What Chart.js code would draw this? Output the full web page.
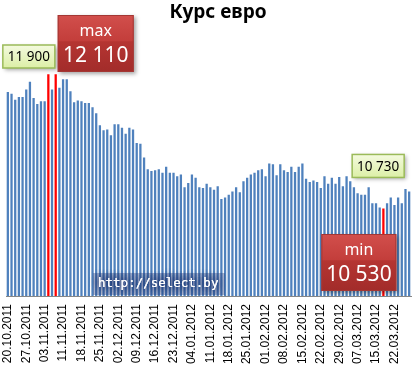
<!DOCTYPE html>
<html>
<head>
<meta charset="utf-8">
<script src="https://cdn.jsdelivr.net/npm/chart.js@4"></script>
<style>
  html, body { margin: 0; padding: 0; background: #fff; }
  #wrap { width: 413px; height: 373px; }
</style>
</head>
<body>
<div id="wrap"><canvas id="rateChart" width="413" height="373"></canvas></div>
<script>
// weekly tick labels (one every 5 trading days)
const tickLabels = ['20.10.2011','27.10.2011','03.11.2011','11.11.2011','18.11.2011','25.11.2011',
  '02.12.2011','09.12.2011','16.12.2011','23.12.2011','04.01.2012','11.01.2012','18.01.2012',
  '25.01.2012','01.02.2012','08.02.2012','15.02.2012','22.02.2012','29.02.2012','07.03.2012',
  '15.03.2012','22.03.2012'];
const labelStep = 5;

// daily euro rate, BYR
const rates = [
  11900, 11880, 11810, 11840, 11840, 11930, 12020, 11830, 11760, 11790,
  11790, 12110, 11930, 12110, 11950, 12050, 12050, 11910, 11780, 11800,
  11790, 11770, 11770, 11720, 11650, 11510, 11450, 11460, 11390, 11520,
  11520, 11480, 11410, 11480, 11460, 11300, 11290, 11130, 10990, 10970,
  10980, 10990, 10950, 11020, 10950, 10950, 10910, 10930, 10780, 10830,
  10930, 10890, 10780, 10770, 10820, 10780, 10750, 10790, 10640, 10660,
  10690, 10730, 10780, 10720, 10850, 10890, 10930, 10950, 10980, 10990,
  10910, 11060, 11050, 10920, 11050, 10980, 10960, 11020, 10960, 11020,
  11060, 10880, 10840, 10860, 10840, 10770, 10910, 10820, 10890, 10820,
  10900, 10790, 10910, 10850, 10780, 10710, 10690, 10690, 10780, 10590,
  10590, 10540, 10530, 10590, 10660, 10570, 10660, 10590, 10760, 10730
];

// first and last values get a green callout
const calloutPoints = [0, rates.length - 1];

const categories = rates.map((v, i) => i % labelStep === 0 ? tickLabels[i / labelStep] : '');
const maxRate = Math.max(...rates);
const minRate = Math.min(...rates);
const minIdx = rates.indexOf(minRate);
const lastMaxIdx = rates.lastIndexOf(maxRate);
const barColors = rates.map(v => (v === maxRate || v === minRate) ? '#FF0000' : '#4F81BD');

const fmt = n => String(n).replace(/\B(?=(\d{3})+(?!\d))/g, ' ');

function shadowOn(ctx){
    ctx.shadowColor = 'rgba(0,0,0,0.35)';
    ctx.shadowBlur = 4;
    ctx.shadowOffsetX = 2;
    ctx.shadowOffsetY = 2;
}

function greenBox(ctx, x, y, w, h, text){
    ctx.save();
    shadowOn(ctx);
    const g = ctx.createLinearGradient(0, y, 0, y + h);
    g.addColorStop(0, '#F4FADF');
    g.addColorStop(1, '#DCEFA6');
    ctx.fillStyle = g;
    ctx.fillRect(x, y, w, h);
    ctx.restore();
    ctx.save();
    ctx.strokeStyle = '#9BBB59';
    ctx.lineWidth = 1.5;
    ctx.strokeRect(x, y, w, h);
    ctx.fillStyle = '#000';
    ctx.font = '13.5px "Noto Sans"';
    ctx.textAlign = 'center';
    ctx.textBaseline = 'middle';
    ctx.fillText(text, x + w / 2, y + h / 2 + 1);
    ctx.restore();
}

function redBox(ctx, x, y, w, h, title, text){
    ctx.save();
    shadowOn(ctx);
    const g = ctx.createLinearGradient(0, y, 0, y + h);
    g.addColorStop(0, '#D24F4C');
    g.addColorStop(0.45, '#C33E3B');
    g.addColorStop(0.47, '#B53532');
    g.addColorStop(1, '#A22C2A');
    ctx.fillStyle = g;
    ctx.fillRect(x, y, w, h);
    ctx.restore();
    ctx.save();
    ctx.strokeStyle = '#A33734';
    ctx.lineWidth = 1;
    ctx.strokeRect(x + 0.5, y + 0.5, w - 1, h - 1);
    ctx.fillStyle = '#fff';
    ctx.textAlign = 'center';
    ctx.textBaseline = 'middle';
    ctx.font = '16px "Noto Sans"';
    ctx.fillText(title, x + w / 2, y + h * 0.28);
    ctx.font = '21px "Noto Sans"';
    ctx.fillText(text, x + w / 2, y + h * 0.72);
    ctx.restore();
}

const calloutPlugin = {
    id: 'callouts',
    afterDatasetsDraw(chart){
        const ctx = chart.ctx;
        const meta = chart.getDatasetMeta(0);

        // title
        ctx.save();
        ctx.fillStyle = '#000';
        ctx.font = 'bold 19px "Noto Sans"';
        ctx.textAlign = 'center';
        ctx.textBaseline = 'middle';
        ctx.fillText('Курс евро', 218, 13);
        ctx.restore();

        // watermark
        ctx.save();
        ctx.font = '12.5px "DejaVu Sans Mono"';
        ctx.textBaseline = 'middle';
        ctx.fillStyle = 'rgba(40,60,120,0.35)';
        ctx.fillRect(93, 273, 132, 22);
        ctx.shadowColor = 'rgba(25,45,105,1)';
        ctx.shadowBlur = 8;
        ctx.fillStyle = 'rgba(255,255,255,0.95)';
        for (let k = 0; k < 3; k++) ctx.fillText('http://select.by', 98, 284);
        ctx.restore();

        // green value callouts
        calloutPoints.forEach(i => {
            const bar = meta.data[i];
            const w = 52, h = 23;
            if (i === 0) {
                greenBox(ctx, bar.x - 5, bar.y - 24 - h, w, h, fmt(rates[i]));
            } else {
                greenBox(ctx, bar.x - w - 5, bar.y - 14 - h, w, h, fmt(rates[i]));
            }
        });

        // max / min
        const mb = meta.data[lastMaxIdx];
        redBox(ctx, mb.x + 2, 15, 76, 57, 'max', fmt(maxRate));
        const nb = meta.data[minIdx];
        redBox(ctx, nb.x - 62, 234, 75, 57, 'min', fmt(minRate));
    }
};

new Chart(document.getElementById('rateChart'), {
    type: 'bar',
    data: {
        labels: categories,
        datasets: [{
            data: rates,
            backgroundColor: barColors,
            barPercentage: 0.62,
            categoryPercentage: 1
        }]
    },
    options: {
        responsive: false,
        animation: false,
        devicePixelRatio: 1,
        layout: { padding: { top: 41, left: 6, right: 2, bottom: 0 } },
        plugins: {
            legend: { display: false },
            tooltip: { enabled: false },
            title: { display: false }
        },
        scales: {
            x: {
                grid: { display: false, drawTicks: false },
                border: { display: true, color: '#868686', width: 1 },
                ticks: {
                    autoSkip: false,
                    minRotation: 90,
                    maxRotation: 90,
                    padding: 8,
                    color: '#000',
                    font: { family: '"Liberation Sans"', size: 12 }
                },
                afterFit(scale){
                    scale.height = 77;
                    scale.paddingLeft = 0;
                    scale.paddingRight = 0;
                }
            },
            y: {
                display: false,
                min: 9500,
                max: 12500
            }
        }
    },
    plugins: [calloutPlugin]
});
</script>
</body>
</html>
